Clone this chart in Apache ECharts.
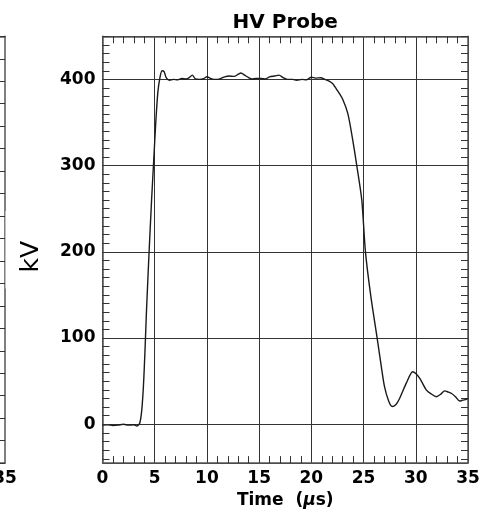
<!DOCTYPE html>
<html>
<head>
<meta charset="utf-8">
<script src="https://cdn.jsdelivr.net/npm/echarts@6/dist/echarts.min.js"></script>
<style>
  html, body { margin: 0; padding: 0; background: #fff; }
  #chart { width: 491px; height: 513px; }
</style>
</head>
<body>
<div id="chart"></div>
<script>
  // HV probe trace: time (us) / voltage (kV)
  var timeUs = [0, 0.5, 1.0, 1.5, 2.0, 2.5, 3.0, 3.3, 3.5, 3.6, 3.7, 3.8, 3.9, 4.0, 4.1, 4.2, 4.35, 4.5, 4.7, 4.9,
    5.1, 5.3, 5.5, 5.7, 5.9, 6.1, 6.4, 6.8, 7.2, 7.6, 8.0, 8.3, 8.6, 8.9, 9.3, 9.7, 10.0, 10.4, 10.85, 11.3,
    11.7, 12.1, 12.6, 13.0, 13.25, 13.6, 14.0, 14.3, 14.7, 15.2, 15.6, 16.0, 16.5, 16.9, 17.3, 17.7, 18.2, 18.6, 19.1, 19.5,
    20.0, 20.4, 20.9, 21.3, 21.7, 22.05, 22.5, 23.0, 23.5, 23.96, 24.4, 24.83, 25.18, 25.7, 26.3, 26.7, 27.0, 27.4, 27.74, 28.1,
    28.45, 29.1, 29.7, 30.0, 30.4, 31.0, 31.5, 31.97, 32.4, 32.76, 33.1, 33.4, 33.8, 34.2, 34.5, 34.85, 35];
  var voltKv = [-1, -0.5, -1.5, -1, 0, -1, -0.5, -2, 0, 3, 10, 22, 40, 65, 95, 128, 170, 210, 260, 305,
    350, 385, 402, 410, 409, 402, 399, 400, 399.5, 401, 400.5, 402, 405, 400.5, 400, 401, 403, 401, 400, 401,
    403, 404, 403.5, 406, 407.5, 405, 402, 400.5, 401, 401, 400.5, 403, 404, 405, 402, 400, 400, 399, 400, 399.5,
    402.5, 401.5, 402, 400, 398, 395, 387, 377, 360, 330, 296, 260, 200, 148, 100, 67, 44, 27, 20.6, 23,
    30, 48, 61, 59, 53, 40, 35, 32, 35, 38.8, 37.5, 36, 32, 27, 28, 29, 30];

  var xRange = [0, 35];
  var yRange = [-45, 450];
  var xTickStep = 5;
  var yLabelTicks = ['0', '100', '200', '300', '400'];

  // 5 kV steps along the y range, used as category slots for the 10 kV minor ticks
  var yStepCats = [];
  for (var v = yRange[0]; v <= yRange[1]; v += 5) yStepCats.push(String(v));

  var seriesData = [];
  for (var i = 0; i < timeUs.length; i++) seriesData.push([timeUs[i], voltKv[i]]);

  var FONT = 'DejaVu Sans';
  var frameLine = { show: true, onZero: false, lineStyle: { color: '#555', width: 1.5 } };
  var minorTickOn = function (n) {
    return { show: true, splitNumber: n, length: 7, lineStyle: { color: '#333', width: 1 } };
  };
  var tickEvery10 = function (idx, val) { return Number(val) % 10 === 0; };
  var tickFont = { color: '#000', fontSize: 17, fontWeight: 'bold', fontFamily: FONT, margin: 7 };

  var chart = echarts.init(document.getElementById('chart'));
  chart.setOption({
    animation: false,
    backgroundColor: '#fff',
    textStyle: { fontFamily: FONT },
    grid: [
      { left: 102.5, top: 36.3, width: 365.5, height: 426.8, containLabel: false, outerBoundsMode: 'none' },
      // right edge of the neighbouring panel, cut off by the frame
      { left: -355, top: 36.3, width: 360, height: 426.8, containLabel: false, outerBoundsMode: 'none' }
    ],
    xAxis: [
      {
        gridIndex: 0, type: 'value', position: 'bottom',
        min: xRange[0], max: xRange[1], interval: xTickStep,
        name: 'Time  ({g|μ}s)', nameLocation: 'middle', nameGap: 27,
        nameTextStyle: { color: '#000', fontSize: 17, fontWeight: 'bold', fontFamily: FONT,
          rich: { g: { fontStyle: 'italic', fontWeight: 'bold', fontSize: 17, fontFamily: FONT, color: '#000' } } },
        axisLine: frameLine,
        axisTick: { show: false, inside: true },
        minorTick: minorTickOn(5),
        axisLabel: tickFont,
        splitLine: { show: true, lineStyle: { color: '#333', width: 1 } }
      },
      {
        gridIndex: 0, type: 'value', position: 'top',
        min: xRange[0], max: xRange[1], interval: xTickStep,
        name: 'HV Probe', nameLocation: 'middle', nameGap: 4,
        nameTextStyle: { color: '#000', fontSize: 20, fontWeight: 'bold', fontFamily: FONT },
        axisLine: frameLine,
        axisTick: { show: false, inside: true },
        minorTick: minorTickOn(5),
        axisLabel: { show: false },
        splitLine: { show: false }
      },
      {
        gridIndex: 1, type: 'value', position: 'bottom',
        min: xRange[0], max: xRange[1], interval: xTickStep,
        axisLine: frameLine,
        axisTick: { show: false, inside: true },
        minorTick: minorTickOn(5),
        axisLabel: tickFont,
        splitLine: { show: false }
      },
      {
        gridIndex: 1, type: 'value', position: 'top',
        min: xRange[0], max: xRange[1], interval: xTickStep,
        axisLine: frameLine,
        axisTick: { show: false },
        axisLabel: { show: false },
        splitLine: { show: false }
      }
    ],
    yAxis: [
      {
        gridIndex: 0, type: 'value', position: 'left',
        min: yRange[0], max: yRange[1], splitNumber: 5,
        axisLine: frameLine,
        axisTick: { show: false },
        axisLabel: {
          color: '#000', fontSize: 17, fontWeight: 'bold', fontFamily: FONT, margin: 7,
          formatter: function (val) {
            return yLabelTicks.indexOf(String(val)) >= 0 ? String(val) : '';
          }
        },
        splitLine: { show: true, lineStyle: { color: '#333', width: 1 } }
      },
      {
        gridIndex: 0, type: 'category', position: 'left', boundaryGap: false,
        data: yStepCats, z: 5,
        name: 'kV', nameLocation: 'middle', nameGap: 46, nameRotate: 90,
        nameTextStyle: { color: '#000', fontSize: 25, fontFamily: FONT,
          backgroundColor: '#fff', padding: [13, 30, 13, 16] },
        axisLine: { show: false, onZero: false },
        axisTick: { show: true, inside: true, length: 7, interval: tickEvery10,
          lineStyle: { color: '#333', width: 1 } },
        axisLabel: { show: false },
        splitLine: { show: false }
      },
      {
        gridIndex: 0, type: 'category', position: 'right', boundaryGap: false,
        data: yStepCats,
        axisLine: frameLine,
        axisTick: { show: true, inside: true, length: 7, interval: tickEvery10,
          lineStyle: { color: '#333', width: 1 } },
        axisLabel: { show: false },
        splitLine: { show: false }
      },
      {
        gridIndex: 1, type: 'value', position: 'right',
        min: 0, max: 19, interval: 1,
        axisLine: frameLine,
        axisTick: { show: true, inside: true, length: 5, lineStyle: { color: '#333' } },
        axisLabel: { show: false },
        splitLine: { show: false }
      }
    ],
    series: [
      {
        type: 'line',
        xAxisIndex: 0, yAxisIndex: 0,
        data: seriesData,
        showSymbol: false,
        smooth: 0.25,
        lineStyle: { color: '#1a1a1a', width: 1.4 },
        z: 3
      }
    ]
  });
</script>
</body>
</html>
